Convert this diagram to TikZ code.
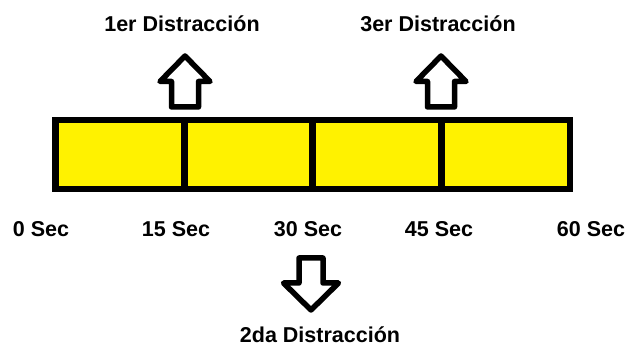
\documentclass[tikz,border=0pt]{standalone}
\usepackage{fontspec}
\setmainfont{Liberation Sans}
\usetikzlibrary{positioning}
\definecolor{baryellow}{RGB}{255,242,0}

\begin{document}
\begin{tikzpicture}[x=1pt,y=-1pt,
  seg/.style={draw,fill=baryellow,line width=6.8pt,minimum width=128.6pt,
    minimum height=69pt,inner sep=0pt,outer sep=0pt},
  lbl/.style={font=\fontsize{21.5}{25}\selectfont\bfseries,inner sep=0pt,anchor=base},
  blockarr/.style={draw,line width=5.5pt,line join=round,fill=white}]
\useasboundingbox (0,0) rectangle (627,347);

% the bar, four quarters
\node[seg] (s1) at (119.8,154.5) {};
\node[seg,right=0pt of s1] (s2) {};
\node[seg,right=0pt of s2] (s3) {};
\node[seg,right=0pt of s3] (s4) {};

% time marks
\node[lbl] (t0) at (41,237) {0 Sec};
\node[lbl] (t15) at (176,237) {15 Sec};
\node[lbl] (t30) at (308,237) {30 Sec};
\node[lbl] (t45) at (439,237) {45 Sec};
\node[lbl] (t60) at (591,237) {60 Sec};

% distractions
\node[lbl] (d1) at (182,32) {1er Distracción};
\node[lbl] (d3) at (438,32) {3er Distracción};
\node[lbl] (d2) at (320,343) {2da Distracción};

% block arrows
\draw[blockarr] (185,56) -- ++(25,25.5) -- ++(-11.5,0) -- ++(0,25.5)
  -- ++(-27,0) -- ++(0,-25.5) -- ++(-11.5,0) -- cycle;
\draw[blockarr] (441,56) -- ++(25,25.5) -- ++(-11.5,0) -- ++(0,25.5)
  -- ++(-27,0) -- ++(0,-25.5) -- ++(-11.5,0) -- cycle;
\draw[blockarr] (311,310) -- ++(-27.5,-27) -- ++(15.5,0) -- ++(0,-25)
  -- ++(24,0) -- ++(0,25) -- ++(15.5,0) -- cycle;
\end{tikzpicture}
\end{document}
